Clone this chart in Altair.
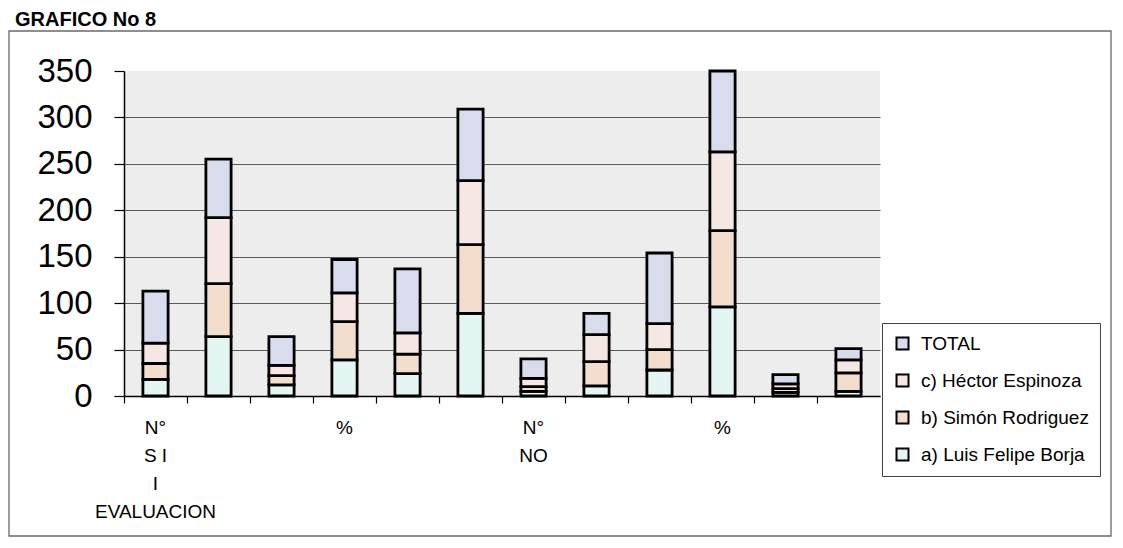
import altair as alt
import pandas as pd

# ---- data ----
categories = ["c01", "c02", "c03", "c04", "c05", "c06",
              "c07", "c08", "c09", "c10", "c11", "c12"]
tick_labels = ["N°|S I|I|EVALUACION", "", "", "%", "", "",
               "N°|NO", "", "", "%", "", ""]
series = ["a) Luis Felipe Borja", "b) Simón Rodriguez", "c) Héctor Espinoza", "TOTAL"]
vals_a = [18, 64, 12, 39, 24, 89, 5, 11, 28, 96, 4, 5]
vals_b = [17, 57, 10, 41, 21, 74, 5, 26, 22, 82, 4, 20]
vals_c = [22, 71, 11, 31, 23, 69, 9, 29, 28, 85, 5, 14]
vals_t = [56, 63, 31, 36, 69, 77, 21, 23, 76, 87, 10, 12]
colors = ["#E4F6F3", "#F3DECD", "#F5E7E3", "#D9DCEC"]
y_ticks = [0, 50, 100, 150, 200, 250, 300, 350]
title_text = ["GRAFICO No 8"]

rows = []
for s_i, (name, vals) in enumerate(zip(series, [vals_a, vals_b, vals_c, vals_t])):
    for cat, v in zip(categories, vals):
        rows.append({"cat": cat, "serie": name, "valor": v, "orden": s_i})
df = pd.DataFrame(rows)

ids_js = "[" + ",".join("'" + c + "'" for c in categories) + "]"
labs_js = "[" + ",".join("'" + l + "'" for l in tick_labels) + "]"
label_expr = f"split({labs_js}[indexof({ids_js}, datum.value)], '|')"

FONT = "Liberation Sans, Arial, sans-serif"
legend_order = ["TOTAL", "c) Héctor Espinoza", "b) Simón Rodriguez", "a) Luis Felipe Borja"]
legend_colors = [colors[3], colors[2], colors[1], colors[0]]

bars = alt.Chart(df).mark_bar(
    width=alt.RelativeBandSize(0.4), stroke="black", strokeWidth=2.8
).encode(
    x=alt.X("cat:N", sort=categories,
            scale=alt.Scale(paddingInner=0, paddingOuter=0),
            axis=alt.Axis(title=None, bandPosition=0, labelOffset=0, tickSize=7,
                          tickColor="black", tickWidth=1.2, domainColor="black",
                          domainWidth=1.5, labelAngle=0, labelFontSize=19,
                          labelFont=FONT, labelColor="black", labelLineHeight=28,
                          labelPadding=15, labelBaseline="top", labelAlign="center",
                          labelOverlap=False, labelExpr=label_expr, grid=False)),
    y=alt.Y("valor:Q", stack="zero",
            scale=alt.Scale(domain=[0, 350], nice=False),
            axis=alt.Axis(title=None, values=y_ticks, tickSize=10, tickColor="black",
                          tickWidth=1.2, domainColor="black", domainWidth=1.5,
                          labelFontSize=33, labelFont=FONT, labelColor="black",
                          labelPadding=22,
                          gridColor="#5a5a5a", gridWidth=1,
                          gridOpacity={"condition": {"test": "datum.value == 350", "value": 0}, "value": 1})),
    color=alt.Color("serie:N",
                    scale=alt.Scale(domain=legend_order, range=legend_colors),
                    legend=alt.Legend(orient="none", legendX=758, legendY=252, title=None,
                                      symbolType="square", symbolSize=144,
                                      symbolStrokeColor="black", symbolStrokeWidth=2,
                                      labelFontSize=19, labelFont=FONT, labelColor="black",
                                      labelLimit=400, labelOffset=9, rowPadding=16,
                                      padding=11, strokeColor="#444", fillColor="white")),
    order=alt.Order("orden:Q", sort="ascending"),
)

frame = alt.Chart(pd.DataFrame({"k": [0]})).mark_rect(
    filled=False, stroke="#6a6a6a", strokeWidth=1.3
).encode(
    x=alt.value(-115), x2=alt.value(987), y=alt.value(-40), y2=alt.value(465)
)

title = alt.Chart(pd.DataFrame({"t": title_text})).mark_text(
    align="left", baseline="alphabetic", fontSize=20, fontWeight="bold",
    font=FONT, color="black"
).encode(x=alt.value(-109), y=alt.value(-45), text="t:N")

chart = alt.layer(frame, bars, title).properties(
    width=756, height=325,
    autosize=alt.AutoSizeParams(type="none"),
    padding={"left": 116, "top": 63, "right": 233, "bottom": 142},
    background="white",
).configure_view(fill="#EDEDED", strokeWidth=0)

chart.save("out.html", embed_options={"renderer": "svg", "actions": False})
